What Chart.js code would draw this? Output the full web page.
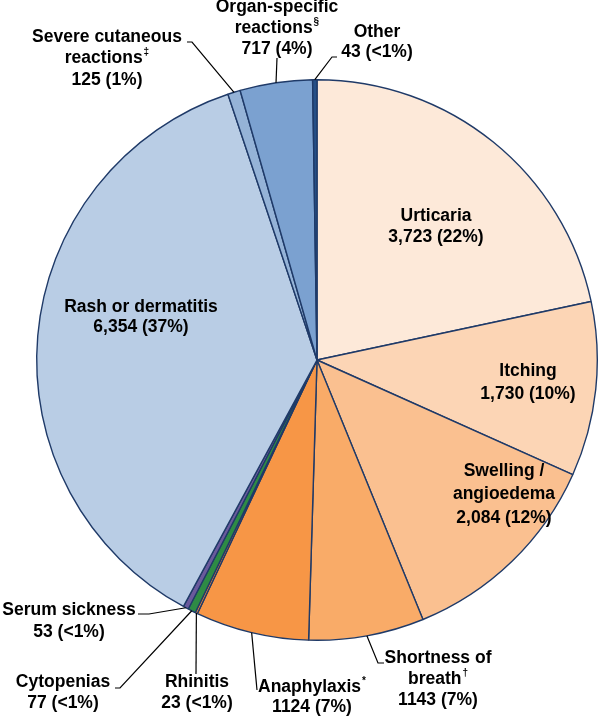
<!DOCTYPE html>
<html>
<head>
<meta charset="utf-8">
<script src="https://cdn.jsdelivr.net/npm/chart.js@4/dist/chart.umd.min.js"></script>
<style>
  html, body { margin: 0; padding: 0; background: #ffffff; }
  #wrap { width: 601px; height: 717px; position: relative; }
</style>
</head>
<body>
<div id="wrap"><canvas id="pieChart"></canvas></div>
<script>
// data, clockwise from 12 o'clock
const categories = [
  'Urticaria', 'Itching', 'Swelling / angioedema', 'Shortness of breath',
  'Anaphylaxis', 'Rhinitis', 'Cytopenias', 'Serum sickness',
  'Rash or dermatitis', 'Severe cutaneous reactions', 'Organ-specific reactions', 'Other'
];
const counts = [3723, 1730, 2084, 1143, 1124, 23, 77, 53, 6354, 125, 717, 43];
const shareLabels = ['22%', '10%', '12%', '7%', '7%', '<1%', '<1%', '<1%', '37%', '1%', '4%', '<1%'];
const countLabels = ['3,723', '1,730', '2,084', '1143', '1124', '23', '77', '53', '6,354', '125', '717', '43'];
const footnoteMarks = ['', '', '', '\u2020', '*', '', '', '', '', '\u2021', '\u00a7', ''];

const sliceColors = [
  '#FDE9D9', '#FCD5B5', '#FAC090', '#F9AB68', '#F79646', '#E8843A',
  '#2E8B45', '#6A5A9C', '#B9CDE5', '#95B3D7', '#7BA1D0', '#264F86'
];

// text lines per slice; the footnote mark goes after the last title line
const titleLines = [
  ['Urticaria'], ['Itching'], ['Swelling /', 'angioedema'], ['Shortness of', 'breath'],
  ['Anaphylaxis'], ['Rhinitis'], ['Cytopenias'], ['Serum sickness'],
  ['Rash or dermatitis'], ['Severe cutaneous', 'reactions'], ['Organ-specific', 'reactions'], ['Other']
];

// label placement: x centre, y of first line, line gap, optional leader polyline (after the pie anchor)
const labelLayout = [
  { x: 436, y: 216, gap: 21 },
  { x: 528, y: 371, gap: 23 },
  { x: 504, y: 471, gap: 23.5 },
  { x: 438, y: 658, gap: 21, leader: [[378, 663], [384, 663]] },
  { x: 312, y: 687, gap: 20.5, leader: [[257, 690]] },
  { x: 197, y: 682, gap: 21, leader: [[196, 674]] },
  { x: 63, y: 682, gap: 21, leader: [[120, 688], [115, 688]] },
  { x: 69, y: 610, gap: 22, leader: [[149, 614], [138, 614]] },
  { x: 141, y: 307, gap: 20.5 },
  { x: 107, y: 37, gap: 21.5, leader: [[192, 42], [187, 42]] },
  { x: 277, y: 7, gap: 21, leader: [[277, 58]] },
  { x: 377, y: 32, gap: 20, leader: [[332, 57], [337, 57]] }
];

const mainFont = 'bold 17.5px "Liberation Sans", Arial, sans-serif';
const supFont = 'bold 10px "Liberation Sans", Arial, sans-serif';

const pieLabels = {
  id: 'pieLabels',
  afterDatasetsDraw(chart) {
    const ctx = chart.ctx;
    const meta = chart.getDatasetMeta(0);
    ctx.save();
    meta.data.forEach((arc, i) => {
      const p = arc.getProps(['x', 'y', 'startAngle', 'endAngle', 'outerRadius'], true);
      const lay = labelLayout[i];
      if (lay.leader) {
        const mid = (p.startAngle + p.endAngle) / 2;
        ctx.beginPath();
        ctx.moveTo(p.x + Math.cos(mid) * p.outerRadius, p.y + Math.sin(mid) * p.outerRadius);
        lay.leader.forEach(pt => ctx.lineTo(pt[0], pt[1]));
        ctx.strokeStyle = '#000000';
        ctx.lineWidth = 1.2;
        ctx.stroke();
      }
      const lines = titleLines[i].concat([countLabels[i] + ' (' + shareLabels[i] + ')']);
      const supIdx = titleLines[i].length - 1;
      ctx.fillStyle = '#000000';
      ctx.textBaseline = 'middle';
      lines.forEach((t, k) => {
        const y = lay.y + k * lay.gap;
        const mark = k === supIdx ? footnoteMarks[i] : '';
        ctx.font = mainFont;
        const w = ctx.measureText(t).width;
        ctx.font = supFont;
        const sw = mark ? ctx.measureText(mark).width + 1 : 0;
        const left = lay.x - (w + sw) / 2;
        ctx.textAlign = 'left';
        ctx.font = mainFont;
        ctx.fillText(t, left, y);
        if (mark) {
          ctx.font = supFont;
          ctx.fillText(mark, left + w + 1, y - 6);
        }
      });
    });
    ctx.restore();
  }
};

new Chart(document.getElementById('pieChart').getContext('2d'), {
  type: 'pie',
  data: {
    labels: categories,
    datasets: [{
      data: counts,
      backgroundColor: sliceColors,
      borderColor: '#1F3A68',
      borderWidth: 1.4
    }]
  },
  options: {
    responsive: true,
    maintainAspectRatio: false,
    animation: false,
    layout: { padding: { left: 36, right: 3, top: 79, bottom: 76 } },
    plugins: {
      legend: { display: false },
      tooltip: { enabled: false }
    }
  },
  plugins: [pieLabels]
});
</script>
</body>
</html>
